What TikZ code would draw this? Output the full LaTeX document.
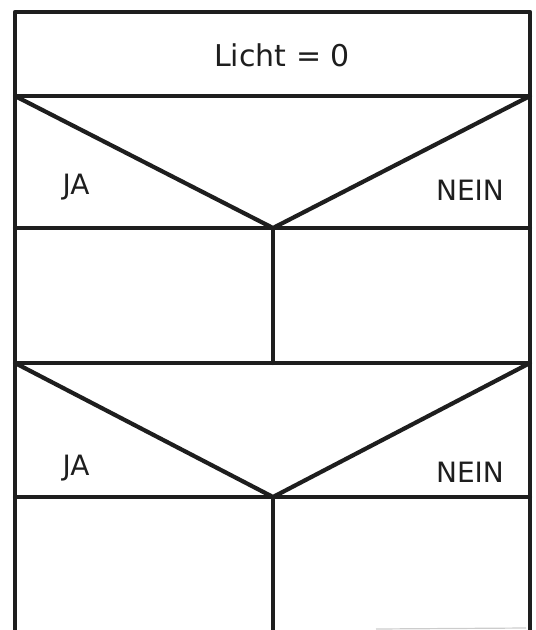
\documentclass[tikz,border=0pt]{standalone}
\usepackage{fontspec}
\setmainfont{DejaVu Sans}
\definecolor{ink}{HTML}{1E1E1E}
\begin{document}
\begin{tikzpicture}[x=1pt,y=-1pt,
  frame/.style={draw=ink,line width=4.2pt,line cap=round,line join=round},
  lbl/.style={text=ink,font=\fontsize{28}{30}\selectfont,inner sep=0pt,anchor=center}]
\useasboundingbox (0,0) rectangle (536,630);
% key coordinates
\coordinate (tl) at (15,12);  \coordinate (tr) at (530,12);
\coordinate (l1) at (15,96);  \coordinate (r1) at (530,96);
\coordinate (l2) at (15,228); \coordinate (r2) at (530,228);
\coordinate (a1) at (273,228);
\coordinate (l3) at (15,363); \coordinate (r3) at (530,363);
\coordinate (m3) at (273,363);
\coordinate (l4) at (15,497); \coordinate (r4) at (530,497);
\coordinate (a2) at (273,497);
\coordinate (lb) at (15,632); \coordinate (rb) at (530,632);
\coordinate (mb) at (273,632);
% frame
\draw[frame] (lb) -- (tl) -- (tr) -- (rb);
\draw[frame] (l1) -- (r1);
\draw[frame] (l2) -- (r2);
\draw[frame] (l3) -- (r3);
\draw[frame] (l4) -- (r4);
% decision 1
\draw[frame] (l1) -- (a1) -- (r1);
\draw[frame] (a1) -- (m3);
% decision 2
\draw[frame] (l3) -- (a2) -- (r3);
\draw[frame] (a2) -- (mb);
% faint line at bottom
\coordinate (g1) at (376,629); \coordinate (g2) at (526,628);
\draw[gray!40,line width=1.2pt] (g1) -- (g2);
% texts
\node[lbl,font=\fontsize{30}{32}\selectfont] (title) at (282,55) {Licht = 0};
\node[lbl] (ja1) at (76,187) {JA};
\node[lbl] (nein1) at (470,190) {NEIN};
\node[lbl] (ja2) at (76,468) {JA};
\node[lbl] (nein2) at (470,472) {NEIN};
\end{tikzpicture}
\end{document}
